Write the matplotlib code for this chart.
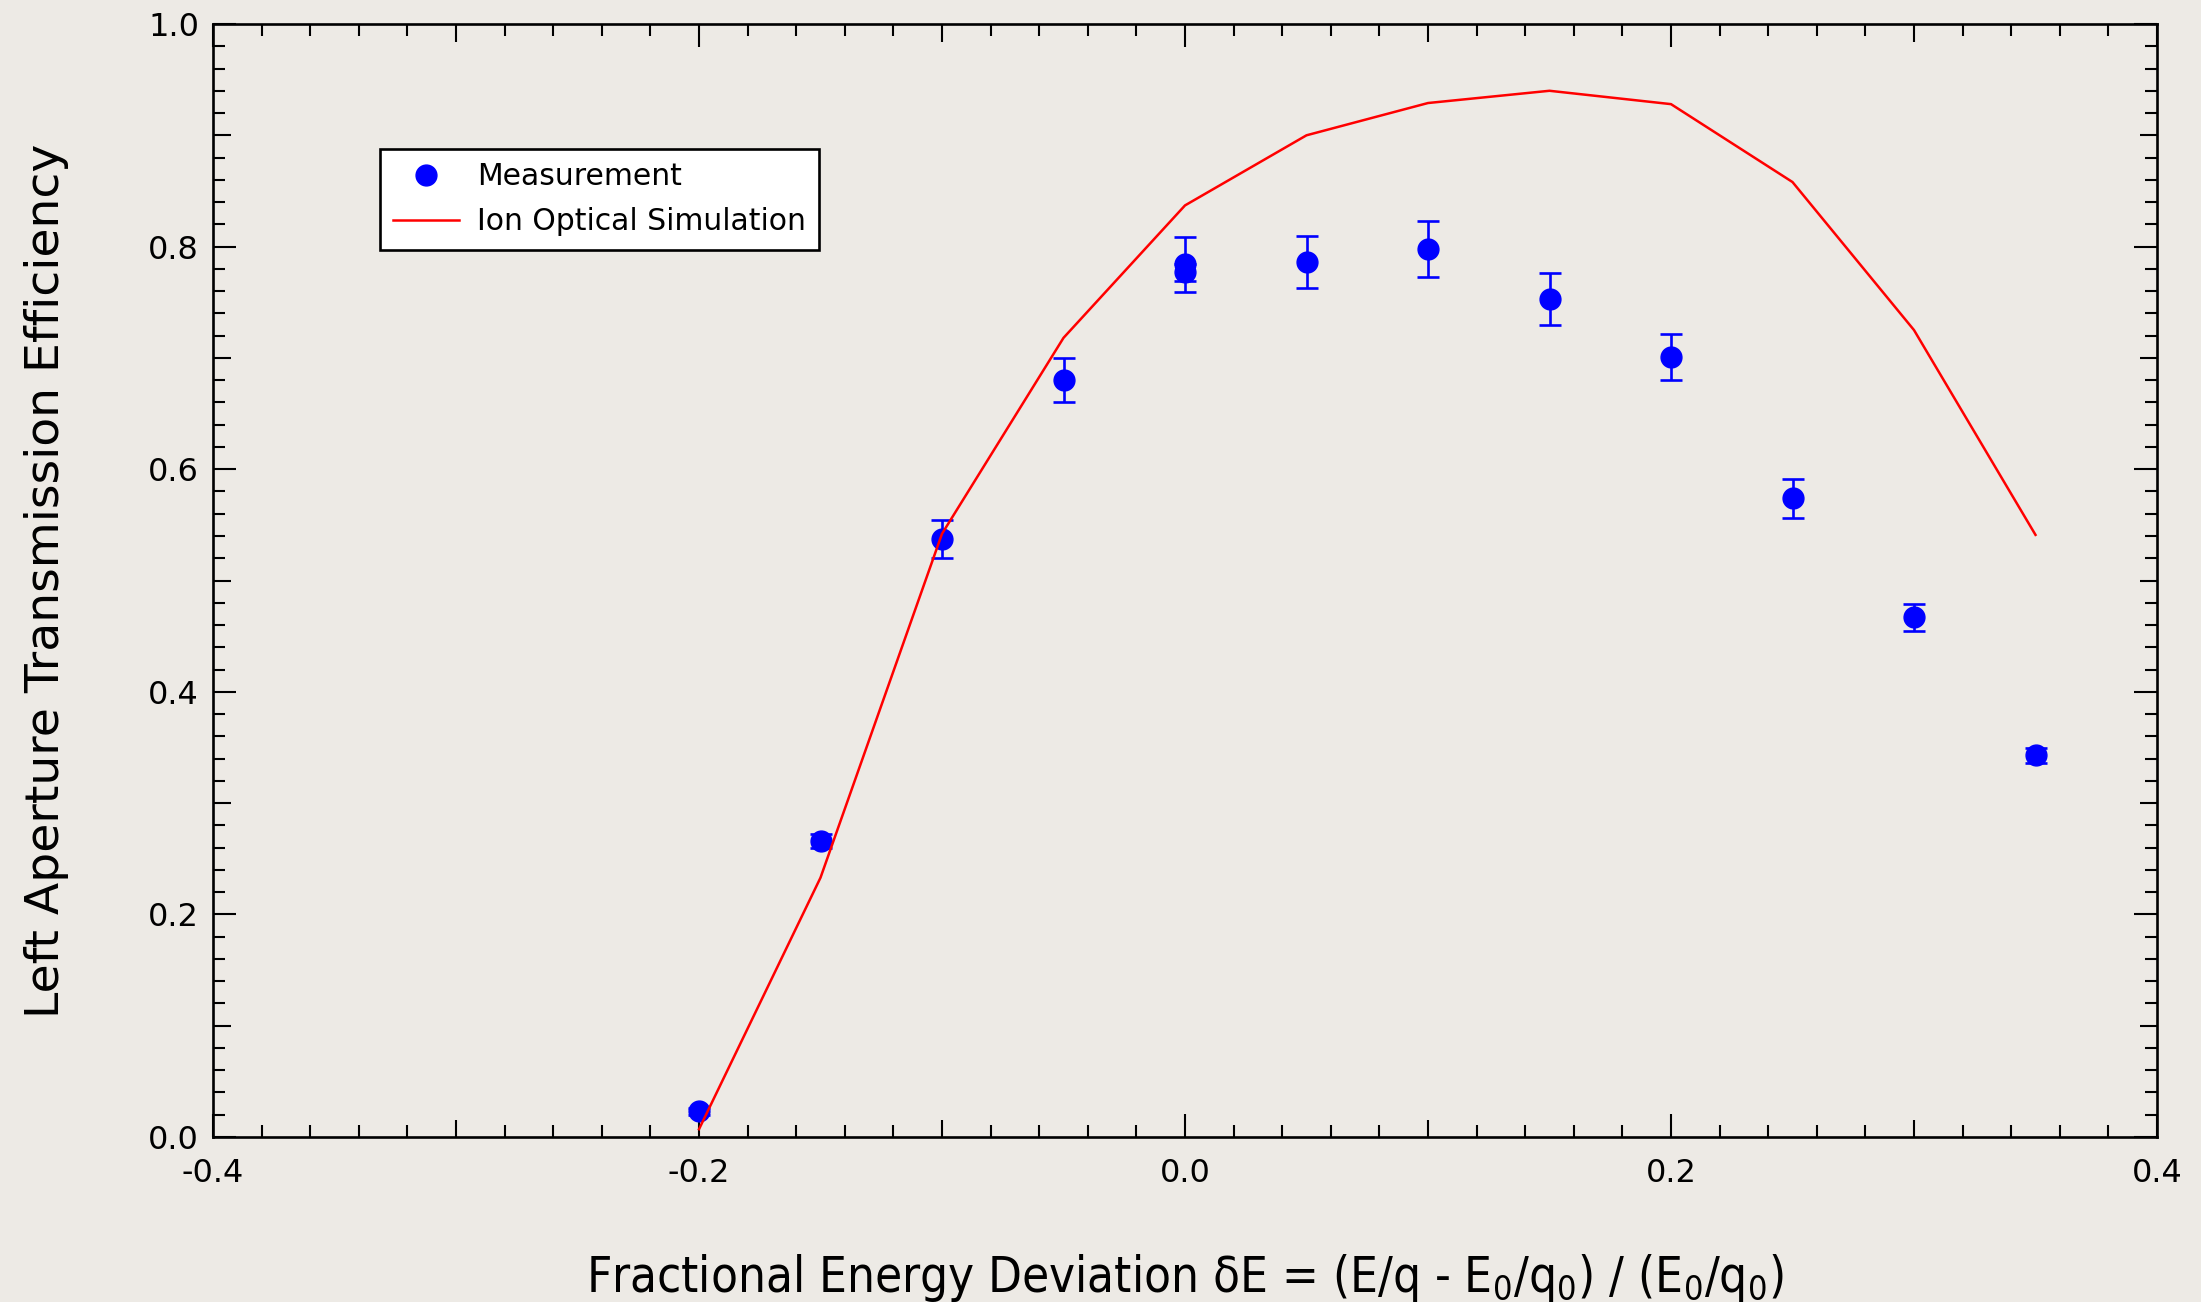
import matplotlib
matplotlib.use('Agg')
import matplotlib.pyplot as plt
import numpy as np
from matplotlib import font_manager
from matplotlib.lines import Line2D
from matplotlib.ticker import FixedLocator, FuncFormatter, MultipleLocator

# measured left-aperture transmission (two runs taken at dE = 0)
meas_de = [-0.20, -0.15, -0.10, -0.05, 0.00, 0.00, 0.05, 0.10, 0.15, 0.20, 0.25, 0.30, 0.35]
meas_eff = [0.023, 0.266, 0.537, 0.680, 0.784, 0.777, 0.786, 0.798, 0.753, 0.701, 0.574, 0.467, 0.343]
meas_err = [0.003, 0.006, 0.017, 0.020, 0.025, 0.0075, 0.0235, 0.025, 0.0235, 0.0205, 0.0175, 0.012, 0.0067]

# ion optical simulation
sim_de = [-0.20, -0.15, -0.10, -0.05, 0.00, 0.05, 0.10, 0.15, 0.20, 0.25, 0.30, 0.35]
sim_eff = [0.007, 0.233, 0.542, 0.718, 0.837, 0.900, 0.929, 0.940, 0.928, 0.858, 0.725, 0.541]

BG = '#edeae5'
MAJOR_LEN, MED_LEN, MINOR_LEN = 16.5, 12.6, 8.5

fig = plt.figure(figsize=(22.01, 13.02), dpi=100, facecolor=BG)
ax = fig.add_axes([213 / 2201, 1 - 1137 / 1302, 1944 / 2201, 1113 / 1302])
ax.set_facecolor(BG)

ax.errorbar(meas_de, meas_eff, yerr=meas_err, fmt='none', ecolor='#0000ff',
            elinewidth=1.9, capsize=7.7, capthick=1.9, zorder=2)
ax.plot(meas_de, meas_eff, 'o', color='#0000ff', markersize=15, zorder=3)
ax.plot(sim_de, sim_eff, '-', color='#ff0000', linewidth=1.8, zorder=4)

ax.set_xlim(-0.4, 0.4)
ax.set_ylim(0.0, 1.0)


def is_labelled(v):
    q = v / 0.2
    return abs(q - round(q)) < 1e-6


def fmt(v, pos):
    return f'{round(v, 2) + 0.0:.1f}' if is_labelled(v) else ''


# majors every 0.1 (labelled every 0.2), minors every 0.02
for axis, lo, hi in ((ax.xaxis, -0.4, 0.4), (ax.yaxis, 0.0, 1.0)):
    axis.set_major_locator(FixedLocator(np.round(np.arange(lo, hi + 1e-9, 0.1), 2)))
    axis.set_major_formatter(FuncFormatter(fmt))
    axis.set_minor_locator(MultipleLocator(0.02))

ax.tick_params(which='both', direction='in', top=True, right=True,
               width=1.5, color='black')
ax.tick_params(which='major', length=MAJOR_LEN, labelsize=23, labelcolor='black')
ax.tick_params(which='minor', length=MINOR_LEN)
ax.tick_params(axis='x', which='major', pad=15)
ax.tick_params(axis='y', which='major', pad=10)
for sp in ax.spines.values():
    sp.set_linewidth(1.9)
    sp.set_color('black')

ax.set_ylabel('Left Aperture Transmission Efficiency', fontsize=34,
              family='DejaVu Sans')
ax.yaxis.set_label_coords(-0.074, 0.5)

# narrow face for the x label if one is installed
fonts = font_manager.fontManager.ttflist
if any(f.name == 'Liberation Sans Narrow' for f in fonts):
    xl_family, xl_stretch = 'Liberation Sans Narrow', 'normal'
elif any(f.name == 'DejaVu Sans' and f.stretch == 'condensed' for f in fonts):
    xl_family, xl_stretch = 'DejaVu Sans', 'condensed'
else:
    xl_family, xl_stretch = 'DejaVu Sans', 'normal'

xl = ax.set_xlabel(r'Fractional Energy Deviation δE = (E/q - E$\mathregular{_0}$/q$\mathregular{_0}$)'
                   r' / (E$\mathregular{_0}$/q$\mathregular{_0}$)',
                   fontsize=40, family=xl_family, stretch=xl_stretch, va='baseline')

handles = [Line2D([], [], ls='none', marker='o', color='#0000ff', markersize=15),
           Line2D([], [], color='#ff0000', linewidth=1.8)]
leg = ax.legend(handles, ['Measurement', 'Ion Optical Simulation'],
                loc='upper left', bbox_to_anchor=(167 / 1944, (1137 - 149) / 1113),
                borderaxespad=0, fontsize=21.5, frameon=True, fancybox=False,
                framealpha=1, facecolor='white', edgecolor='black',
                handlelength=2.2, handletextpad=0.6, borderpad=0.45,
                labelspacing=0.53)
leg.get_frame().set_linewidth(1.9)

# fit the x label to 1196 px wide, cap-centred about 1274 px from the top
fig.canvas.draw()
size = 40 * 1196 / xl.get_window_extent().width
xl.set_fontsize(size)
em_px = size * 100 / 72
ax.xaxis.set_label_coords(0.5, (1137 - (1274 + 0.36 * em_px)) / 1113)

# shorter ticks on the unlabelled 0.1 positions
fig.canvas.draw()
for axis in (ax.xaxis, ax.yaxis):
    for tick in axis.get_major_ticks():
        if not is_labelled(tick.get_loc()):
            tick.tick1line.set_markersize(MED_LEN)
            tick.tick2line.set_markersize(MED_LEN)

fig.savefig('out.png', dpi=100, facecolor=BG)
